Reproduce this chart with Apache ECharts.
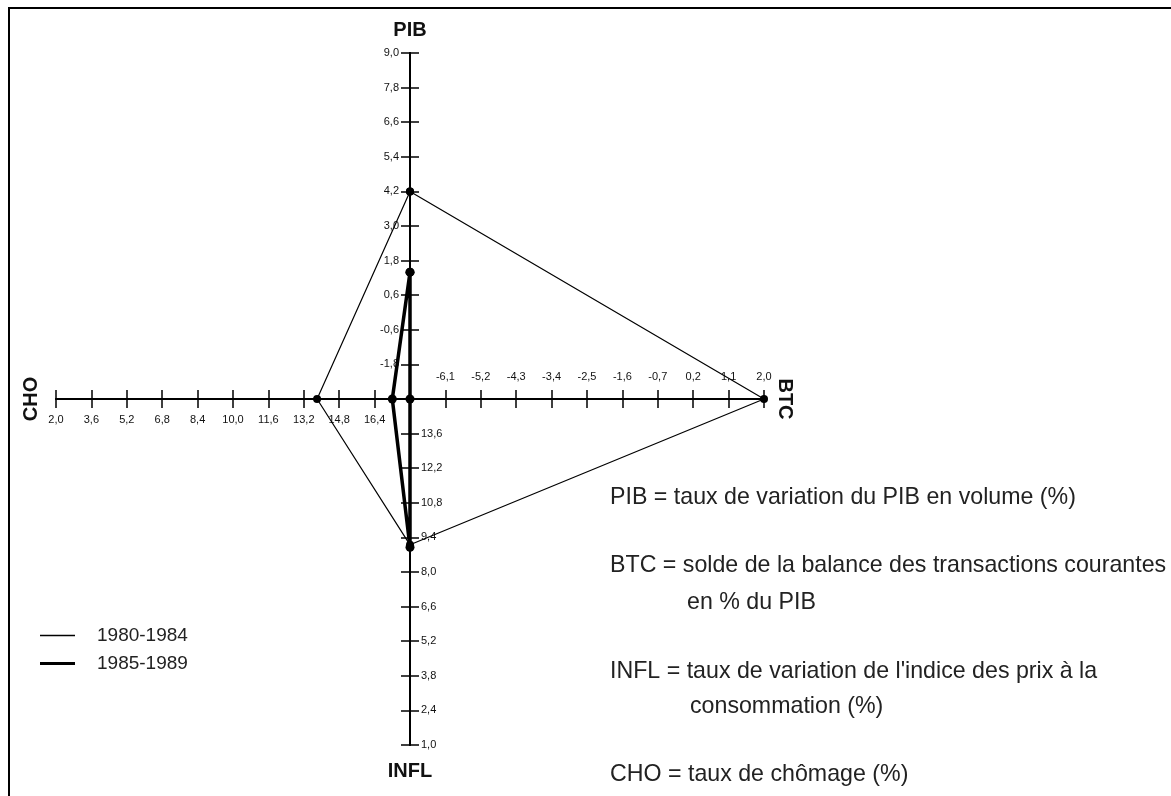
<!DOCTYPE html>
<html>
<head>
<meta charset="utf-8">
<script src="https://cdn.jsdelivr.net/npm/echarts@6/dist/echarts.min.js"></script>
<style>
  html, body { margin: 0; padding: 0; background: #fff; }
  #chart { width: 1171px; height: 796px; }
</style>
</head>
<body>
<div id="chart"></div>
<script>
// Carré magique: four half-axes leaving a common centre (PIB up, BTC right, INFL down, CHO left)
const axisNames = ['PIB', 'BTC', 'INFL', 'CHO'];
const axisCentre = [-3.0, -7.0, 15.0, 18.0];   // value at the crossing point
const axisOuter = [9.0, 2.0, 1.0, 2.0];        // value at the far end of each half-axis

// Tick labels, listed from the centre outwards
const pibTicks = ['-1,8', '-0,6', '0,6', '1,8', '3,0', '4,2', '5,4', '6,6', '7,8', '9,0'];
const btcTicks = ['-6,1', '-5,2', '-4,3', '-3,4', '-2,5', '-1,6', '-0,7', '0,2', '1,1', '2,0'];
const inflTicks = ['13,6', '12,2', '10,8', '9,4', '8,0', '6,6', '5,2', '3,8', '2,4', '1,0'];
const choTicks = ['16,4', '14,8', '13,2', '11,6', '10,0', '8,4', '6,8', '5,2', '3,6', '2,0'];

// Period averages, in the order PIB, BTC, INFL, CHO
const periods = ['1980-1984', '1985-1989'];
const values1980 = [4.2, 2.0, 9.1, 13.8];
const values1985 = [1.4, -7.0, 9.0, 17.2];

const notes = [
  'PIB = taux de variation du PIB en volume (%)',
  'BTC = solde de la balance des transactions courantes',
  'en % du PIB',
  "INFL = taux de variation de l'indice des prix à la",
  'consommation (%)',
  'CHO = taux de chômage (%)'
];

// Each half-axis has 10 steps; the shared grid runs from -10 to 10 both ways.
const STEPS = 10;
const directions = [[0, 1], [1, 0], [0, -1], [-1, 0]];
function toPoint(axisIdx, v) {
  const d = (v - axisCentre[axisIdx]) / (axisOuter[axisIdx] - axisCentre[axisIdx]) * STEPS;
  return [directions[axisIdx][0] * d, directions[axisIdx][1] * d];
}
function polygon(vals) {
  const pts = vals.map((v, i) => toPoint(i, v));
  pts.push(pts[0]);
  return pts;
}
function tickLabel(list, v, sign) {
  const i = Math.round(v * sign);
  return (i >= 1 && i <= STEPS) ? list[i - 1] : '';
}

const FONT = '"Liberation Sans", Arial, sans-serif';
const INK = '#111';

const gridBox = { left: 56, right: 407, top: 53, bottom: 51 };
const halfW = (1171 - gridBox.left - gridBox.right) / 2;
const halfH = (796 - gridBox.top - gridBox.bottom) / 2;

function baseAxis(extra) {
  return Object.assign({
    type: 'value',
    min: -STEPS, max: STEPS, interval: 1,
    splitLine: { show: false },
    axisLine: { show: true, onZero: false, lineStyle: { color: '#000', width: 2 } },
    axisTick: { show: true, length: 9, lineStyle: { color: '#000', width: 1.5 } },
    nameTextStyle: { fontFamily: FONT, fontSize: 20, fontWeight: 'bold', color: INK }
  }, extra);
}
function labelStyle(fmt, margin) {
  return {
    show: true, margin: margin, showMinLabel: true, showMaxLabel: true,
    fontFamily: FONT, fontSize: 11, color: INK, formatter: fmt
  };
}

const option = {
  animation: false,
  backgroundColor: '#fff',
  grid: Object.assign({ containLabel: false, outerBoundsMode: 'none' }, gridBox),
  xAxis: [
    baseAxis({
      position: 'bottom', offset: -halfH,
      name: axisNames[3], nameLocation: 'start', nameRotate: 90, nameGap: 15,
      axisLabel: labelStyle(v => tickLabel(choTicks, v, -1), 15)
    }),
    baseAxis({
      position: 'top', offset: -halfH,
      name: axisNames[1], nameLocation: 'end', nameRotate: -90, nameGap: 11,
      axisLabel: labelStyle(v => tickLabel(btcTicks, v, 1), 17)
    })
  ],
  yAxis: [
    baseAxis({
      position: 'left', offset: -halfW,
      name: axisNames[0], nameLocation: 'end', nameGap: 13,
      axisLabel: labelStyle(v => tickLabel(pibTicks, v, 1), 11)
    }),
    baseAxis({
      position: 'right', offset: -halfW,
      name: axisNames[2], nameLocation: 'start', nameGap: 16,
      axisLabel: labelStyle(v => tickLabel(inflTicks, v, -1), 11)
    })
  ],
  legend: [
    {
      data: [periods[0]], left: 40, top: 626, padding: 0,
      icon: 'rect', itemWidth: 35, itemHeight: 1.5,
      itemStyle: { borderWidth: 0 },
      textStyle: { fontFamily: FONT, fontSize: 19, color: '#222', padding: [0, 0, 0, 17] }
    },
    {
      data: [periods[1]], left: 40, top: 654, padding: 0,
      icon: 'rect', itemWidth: 35, itemHeight: 3,
      itemStyle: { borderWidth: 0 },
      textStyle: { fontFamily: FONT, fontSize: 19, color: '#222', padding: [0, 0, 0, 17] }
    }
  ],
  series: [
    {
      name: periods[0], type: 'line', xAxisIndex: 0, yAxisIndex: 0,
      data: polygon(values1980), clip: false,
      symbol: 'circle', symbolSize: 8,
      itemStyle: { color: '#000' },
      lineStyle: { color: '#000', width: 1.2 },
      emphasis: { disabled: true }, z: 3
    },
    {
      name: periods[1], type: 'line', xAxisIndex: 0, yAxisIndex: 0,
      data: polygon(values1985), clip: false,
      symbol: 'circle', symbolSize: 9,
      itemStyle: { color: '#000' },
      lineStyle: { color: '#000', width: 3.5 },
      emphasis: { disabled: true }, z: 4
    }
  ],
  graphic: [
    {
      type: 'rect', silent: true,
      shape: { x: 9, y: 8, width: 1200, height: 820 },
      style: { fill: 'none', stroke: '#000', lineWidth: 2 }
    }
  ].concat(notes.map((t, i) => {
    const xs = [610, 610, 687, 610, 690, 610];
    const ys = [498, 566, 603, 672, 707, 775];
    return {
      type: 'text', silent: true, x: xs[i], y: ys[i],
      style: { text: t, fontFamily: FONT, fontSize: 23.2, fill: '#222', verticalAlign: 'middle' }
    };
  }))
};

const chart = echarts.init(document.getElementById('chart'), null, { renderer: 'canvas' });
chart.setOption(option);
</script>
</body>
</html>
